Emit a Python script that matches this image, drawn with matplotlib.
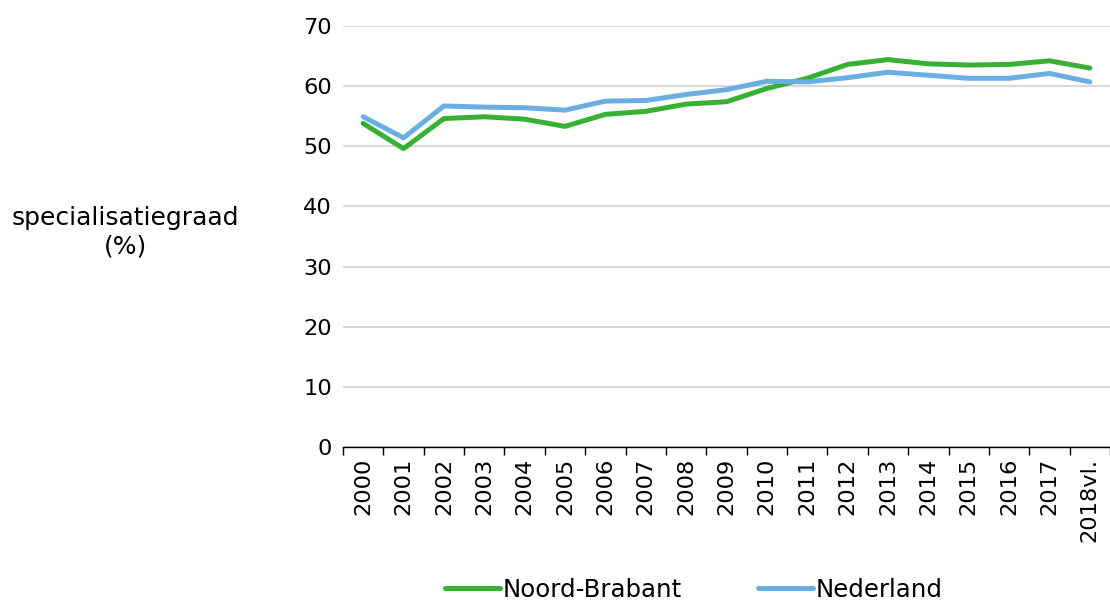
import numpy as np
import matplotlib
matplotlib.use("Agg")
from matplotlib import pyplot as plt

years = ['2000', '2001', '2002', '2003', '2004', '2005', '2006', '2007', '2008',
         '2009', '2010', '2011', '2012', '2013', '2014', '2015', '2016', '2017',
         '2018vl.']
noord_brabant = [53.8, 49.6, 54.6, 54.9, 54.5, 53.3, 55.3, 55.8, 57.0, 57.4,
                 59.6, 61.3, 63.6, 64.4, 63.7, 63.5, 63.6, 64.2, 63.0]
nederland = [54.9, 51.4, 56.7, 56.5, 56.4, 56.0, 57.5, 57.6, 58.6, 59.4,
             60.8, 60.7, 61.4, 62.3, 61.8, 61.3, 61.3, 62.1, 60.7]

green = '#37B034'
blue = '#6AAEE3'
fontsize = 16.2
labelsize = 18
legendsize = 17.6
gridcolor = '#D9D9D9'

fig = plt.figure(figsize=(11.1, 6.03), dpi=100)
ax = fig.add_axes([0.309, 0.2587, 0.691, 0.6983])

x = np.arange(len(years))
ax.plot(x, noord_brabant, color=green, linewidth=3.6, label='Noord-Brabant', solid_capstyle='round')
ax.plot(x, nederland, color=blue, linewidth=3.6, label='Nederland', solid_capstyle='round')

ax.set_xlim(-0.5, len(years) - 0.5)
ax.set_ylim(0, 70)
ax.set_yticks(np.arange(0, 71, 10))
ax.yaxis.grid(True, color=gridcolor, linewidth=1.5)
ax.set_axisbelow(True)

# category labels at centres, tick marks at the boundaries
ax.set_xticks(np.arange(-0.5, len(years), 1.0))
ax.set_xticklabels([])
ax.set_xticks(x, minor=True)
ax.set_xticklabels(years, minor=True, rotation=90, fontsize=fontsize)
ax.tick_params(axis='x', which='major', length=6, width=1, color='black')
ax.tick_params(axis='x', which='minor', length=0, pad=8)
ax.tick_params(axis='y', length=0, labelsize=fontsize, pad=8)

for side in ['left', 'right', 'top']:
    ax.spines[side].set_visible(False)
ax.spines['bottom'].set_linewidth(1)

fig.text(0.113, 0.615, 'specialisatiegraad\n(%)', ha='center', va='center',
         fontsize=labelsize, linespacing=1.2)

fig.legend(loc='center', bbox_to_anchor=(0.625, 0.022), ncol=2, frameon=False,
           fontsize=legendsize, handlelength=2.25, handletextpad=0.12,
           columnspacing=3.1)

fig.savefig('out.png', dpi=100)
